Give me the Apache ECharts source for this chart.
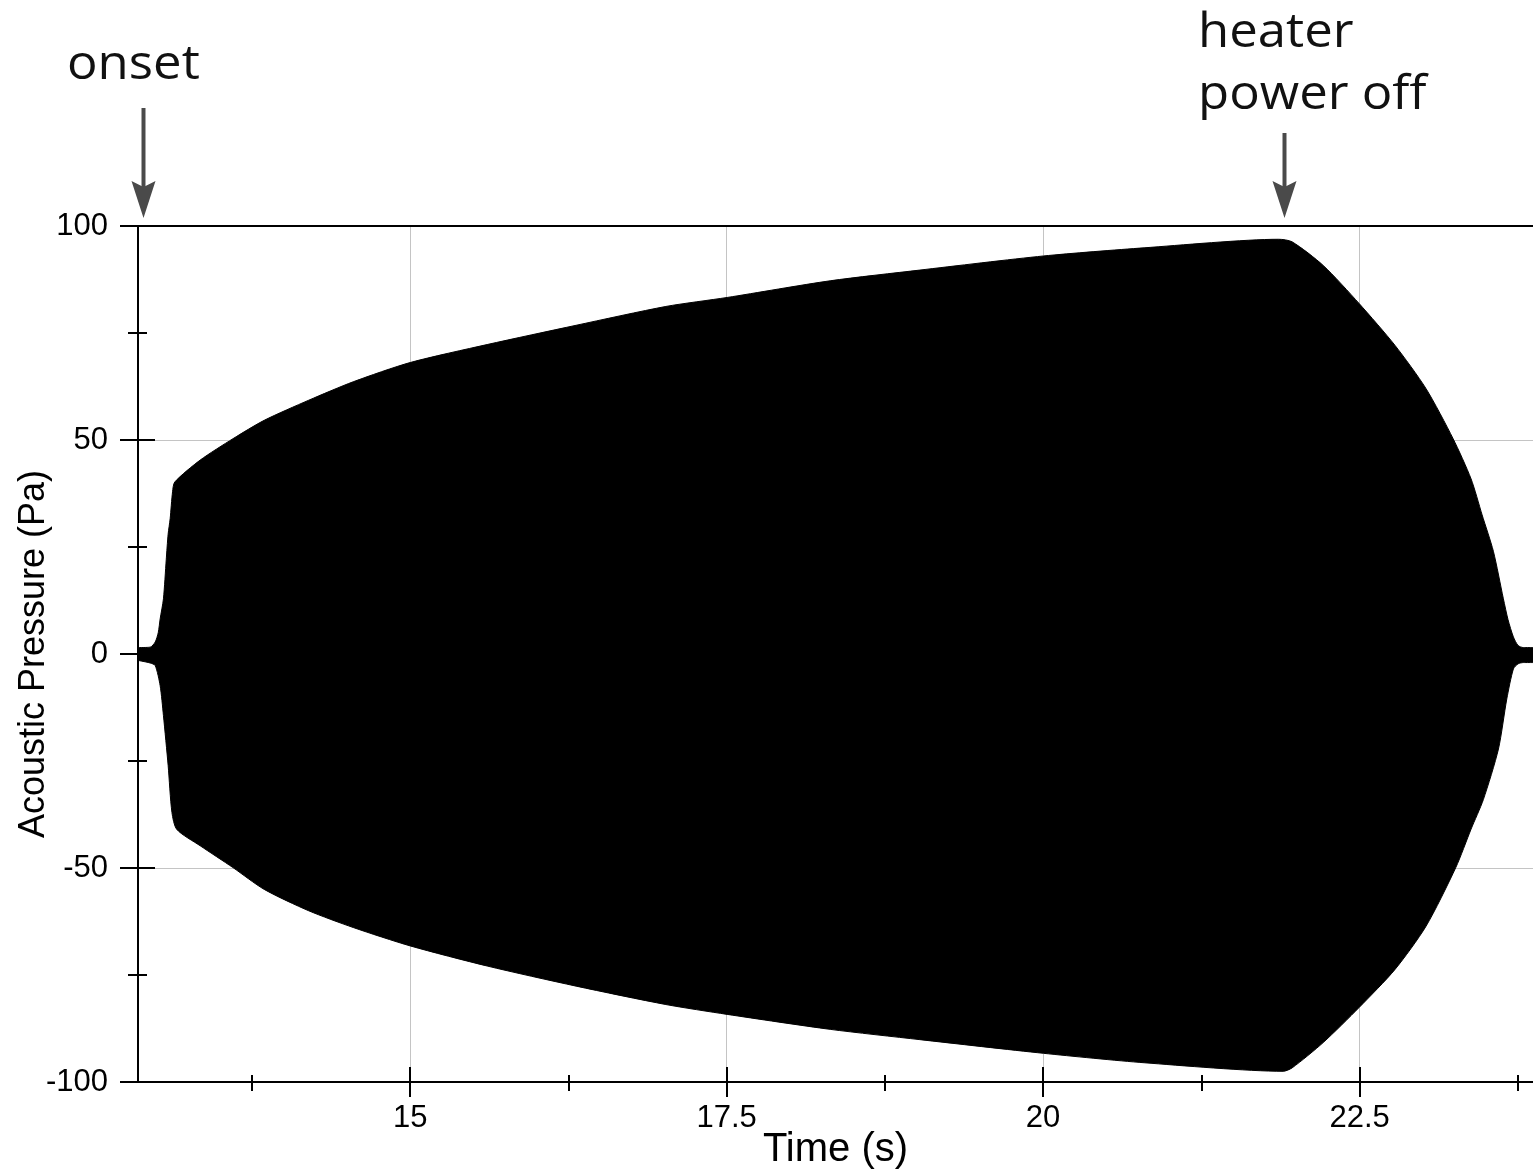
<!DOCTYPE html>
<html>
<head>
<meta charset="utf-8">
<script src="https://cdn.jsdelivr.net/npm/echarts@6/dist/echarts.min.js"></script>
<style>
  html, body { margin: 0; padding: 0; background: #fff; overflow: hidden; }
  #chart { width: 1533px; height: 1171px; }
</style>
</head>
<body>
<div id="chart"></div>
<script>
// Envelope of the acoustic pressure trace: [time (s), pressure (Pa)]
const upperEnvelope = [
  [12.851, 1.5], [12.946, 1.6], [12.986, 2.8], [13.010, 5.0], [13.025, 8.2],
  [13.051, 12.9], [13.073, 22.0], [13.088, 28.0], [13.104, 31.6], [13.123, 37.9],
  [13.141, 40.2], [13.341, 45.3], [13.600, 50.3], [13.847, 54.6], [14.199, 59.3],
  [14.550, 63.6], [15.000, 68.1], [15.608, 72.3], [16.311, 76.8], [17.020, 81.2],
  [17.504, 83.3], [18.318, 87.2], [19.026, 89.7], [20.004, 93.0], [20.798, 94.9],
  [21.861, 96.9], [21.967, 96.3], [22.212, 90.8], [22.496, 81.9], [22.780, 72.1],
  [23.025, 62.0], [23.239, 50.3], [23.381, 40.9], [23.468, 32.5], [23.557, 24.0],
  [23.636, 12.9], [23.673, 8.0], [23.715, 4.0], [23.752, 2.0], [23.794, 1.5],
  [23.870, 1.5]
];
const lowerEnvelope = [
  [12.851, -1.5], [12.946, -2.1], [12.986, -2.7], [13.025, -7.4], [13.051, -14.4],
  [13.088, -26.0], [13.118, -37.0], [13.157, -41.0], [13.341, -44.8], [13.600, -49.9],
  [13.847, -55.0], [14.199, -60.0], [14.550, -63.9], [15.000, -68.2], [15.608, -72.9],
  [16.311, -77.6], [17.020, -81.9], [17.504, -84.2], [18.318, -87.7], [19.026, -90.1],
  [20.004, -93.3], [20.798, -95.5], [21.896, -97.5], [21.967, -96.7], [22.212, -90.8],
  [22.496, -82.6], [22.780, -73.7], [23.025, -63.6], [23.260, -49.9], [23.381, -40.9],
  [23.478, -34.0], [23.597, -22.2], [23.663, -10.5], [23.715, -3.5], [23.752, -2.3],
  [23.794, -2.0], [23.870, -2.0]
];

// Axis ticks
const timeTicks = [15, 17.5, 20, 22.5];
const timeMinorTicks = [13.75, 16.25, 18.75, 21.25, 23.75];
const pressureTicks = [-100, -50, 0, 50, 100];
const pressureMinorTicks = [-75, -25, 25, 75];
const timeRange = [12.85, 23.87];
const pressureRange = [-100, 100];

// Event markers
const onsetTime = 12.89;
const powerOffTime = 21.9;

const LABEL_FONT = '"Liberation Sans", Arial, sans-serif';
const NOTE_FONT = '"Open Sans", "Noto Sans", sans-serif';

const chart = echarts.init(document.getElementById('chart'), null, { renderer: 'canvas' });

function timeAxis(ticks, inside, len, extra) {
  return Object.assign({
    type: 'value', gridIndex: 0, position: 'bottom',
    min: timeRange[0], max: timeRange[1],
    axisLine: { show: true, onZero: false, lineStyle: { color: '#000', width: 2 } },
    axisTick: { show: true, inside: inside, length: len, customValues: ticks,
                lineStyle: { color: '#000', width: 2 } },
    axisLabel: { show: false },
    splitLine: { show: false }
  }, extra || {});
}
function pressureAxis(ticks, inside, len, extra) {
  return Object.assign({
    type: 'value', gridIndex: 0, position: 'left',
    min: pressureRange[0], max: pressureRange[1],
    axisLine: { show: true, onZero: false, lineStyle: { color: '#000', width: 2 } },
    axisTick: { show: true, inside: inside, length: len, customValues: ticks,
                lineStyle: { color: '#000', width: 2 } },
    axisLabel: { show: false },
    splitLine: { show: false }
  }, extra || {});
}

const envelopeStyle = {
  type: 'line', xAxisIndex: 0, yAxisIndex: 0, symbol: 'none', z: 3,
  smooth: 0.25,
  lineStyle: { color: '#000', width: 1 },
  areaStyle: { color: '#000', opacity: 1 }
};

const option = {
  backgroundColor: '#fff',
  animation: false,
  grid: { left: 138, right: 0, top: 226, bottom: 89, containLabel: false,
          outerBoundsMode: 'none' },
  xAxis: [
    timeAxis(timeTicks, false, 15, {
      name: 'Time (s)', nameLocation: 'middle', nameGap: 48, nameMoveOverlap: false,
      nameTextStyle: { fontFamily: LABEL_FONT, fontSize: 40, color: '#000' },
      axisLabel: { show: true, customValues: timeTicks, margin: 21,
                   fontFamily: LABEL_FONT, fontSize: 31, color: '#000' },
      splitLine: { show: true, lineStyle: { color: '#c4c4c4', width: 1 } }
    }),
    timeAxis(timeTicks, true, 15),
    timeAxis(timeMinorTicks, false, 9),
    timeAxis(timeMinorTicks, true, 7),
    // top frame line
    timeAxis([], false, 0, { position: 'top', axisTick: { show: false } })
  ],
  yAxis: [
    pressureAxis(pressureTicks, false, 18, {
      name: 'Acoustic Pressure (Pa)', nameLocation: 'middle', nameGap: 86, nameMoveOverlap: false,
      nameTextStyle: { fontFamily: LABEL_FONT, fontSize: 36, color: '#000' },
      axisLabel: { show: true, customValues: pressureTicks, margin: 30,
                   fontFamily: LABEL_FONT, fontSize: 31, color: '#000' },
      splitLine: { show: true, lineStyle: { color: '#c4c4c4', width: 1 } }
    }),
    pressureAxis(pressureTicks, true, 17),
    pressureAxis(pressureMinorTicks, false, 10),
    pressureAxis(pressureMinorTicks, true, 9)
  ],
  series: [
    Object.assign({ name: 'upper', data: upperEnvelope }, envelopeStyle),
    Object.assign({ name: 'lower', data: lowerEnvelope }, envelopeStyle)
  ]
};
chart.setOption(option);

// Annotation arrows placed at the event times
function arrow(t, yStart) {
  const x = Math.round(chart.convertToPixel({ xAxisIndex: 0 }, t)) + 0.5;
  const yTop = chart.convertToPixel({ yAxisIndex: 0 }, pressureRange[1]);
  const tip = yTop - 8;
  const color = '#4a4a4a';
  return [
    { type: 'line', silent: true, z: 100,
      shape: { x1: x, y1: yStart, x2: x, y2: tip - 30 },
      style: { stroke: color, lineWidth: 4 } },
    { type: 'polygon', silent: true, z: 100,
      shape: { points: [[x - 12, tip - 37], [x, tip - 31], [x + 12, tip - 37], [x, tip]] },
      style: { fill: color } }
  ];
}
function note(text, x, y) {
  return { type: 'text', silent: true, z: 100, x: x, y: y, scaleX: 1.06,
    style: { text: text, fill: '#111', font: '48px ' + NOTE_FONT,
             textAlign: 'left', textVerticalAlign: 'middle' } };
}
chart.setOption({
  graphic: [].concat(
    arrow(onsetTime, 108),
    arrow(powerOffTime, 133),
    [note('onset', 67, 65), note('heater', 1198, 33), note('power off', 1198, 95)]
  )
});
</script>
</body>
</html>
